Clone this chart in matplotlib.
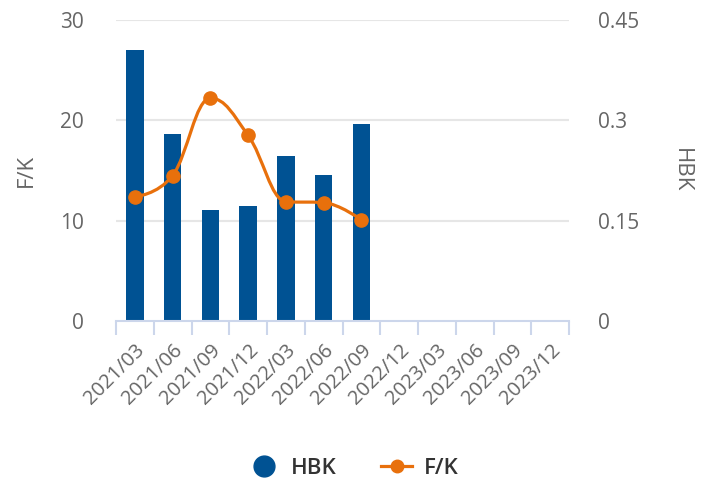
import matplotlib
matplotlib.use("Agg")
import matplotlib.pyplot as plt
from matplotlib.path import Path
from matplotlib.patches import PathPatch
from matplotlib.lines import Line2D
import numpy as np

plt.rcParams['font.family'] = ['Open Sans', 'DejaVu Sans']

categories = ["2021/03", "2021/06", "2021/09", "2021/12", "2022/03", "2022/06",
              "2022/09", "2022/12", "2023/03", "2023/06", "2023/09", "2023/12"]
hbk = [0.405, 0.280, 0.166, 0.172, 0.246, 0.219, 0.295]
fk = [12.4, 14.5, 22.2, 18.5, 11.9, 11.8, 10.1]

BAR = "#005293"
LINE = "#e8700c"
GRID = "#e6e6e6"
AXIS = "#ccd6eb"
TXT = "#666666"

W, H = 707, 482
fig = plt.figure(figsize=(W / 100, H / 100), dpi=100)
ax = fig.add_axes([116 / W, 1 - 321 / H, (569 - 116) / W, (321 - 20) / H])
ax2 = ax.twinx()

n = len(categories)
x = np.arange(n)

# bars on right axis (HBK)
ax2.bar(x[:len(hbk)], hbk, width=0.47, color=BAR, zorder=2)
ax2.set_ylim(0, 0.45)
ax2.set_yticks([0, 0.15, 0.3, 0.45])
ax2.set_yticklabels(["0", "0.15", "0.3", "0.45"])

# left axis (F/K)
ax.set_ylim(0, 30)
ax.set_yticks([0, 10, 20, 30])
ax.set_xlim(-0.5, n - 0.5)
ax.set_zorder(ax2.get_zorder() + 1)
ax.patch.set_visible(False)

for v in [10, 20, 30]:
    ax2.axhline(v * 0.015, color=GRID, lw=1.5, zorder=0)


def spline_path(xs, ys, smoothing=1.5):
    verts = [(xs[0], ys[0])]
    codes = [Path.MOVETO]
    m = len(xs)
    conts = []
    for i in range(m):
        if i == 0 or i == m - 1:
            conts.append(((xs[i], ys[i]), (xs[i], ys[i])))
            continue
        px, py = xs[i], ys[i]
        lx, ly = xs[i - 1], ys[i - 1]
        nx, ny = xs[i + 1], ys[i + 1]
        d = smoothing + 1
        lcx = (smoothing * px + lx) / d
        lcy = (smoothing * py + ly) / d
        rcx = (smoothing * px + nx) / d
        rcy = (smoothing * py + ny) / d
        if rcx != lcx:
            corr = ((rcy - lcy) * (rcx - px)) / (rcx - lcx) + py - rcy
            lcy += corr
            rcy += corr
        if lcy > ly and lcy > py:
            lcy = max(ly, py)
            rcy = 2 * py - lcy
        elif lcy < ly and lcy < py:
            lcy = min(ly, py)
            rcy = 2 * py - lcy
        if rcy > ny and rcy > py:
            rcy = max(ny, py)
            lcy = 2 * py - rcy
        elif rcy < ny and rcy < py:
            rcy = min(ny, py)
            lcy = 2 * py - rcy
        conts.append(((lcx, lcy), (rcx, rcy)))
    for i in range(1, m):
        verts += [conts[i - 1][1], conts[i][0], (xs[i], ys[i])]
        codes += [Path.CURVE4] * 3
    return Path(verts, codes)


xs = list(x[:len(fk)].astype(float))
path = spline_path(xs, fk)
ax.add_patch(PathPatch(path, fill=False, edgecolor=LINE, lw=2.3, zorder=3,
                       capstyle='round', joinstyle='round'))
ax.plot(xs, fk, linestyle='none', marker='o', markersize=9.5, color=LINE, zorder=4)

# axes styling
for a in (ax, ax2):
    for s in a.spines.values():
        s.set_visible(False)
ax.spines['bottom'].set_visible(True)
ax.spines['bottom'].set_color(AXIS)
ax.spines['bottom'].set_linewidth(1.5)

ax.set_xticks(np.arange(n + 1) - 0.5, minor=True)
ax.tick_params(axis='x', which='minor', length=10, width=1.5, color=AXIS)
ax.set_xticks(x)
ax.set_xticklabels(categories, rotation=45, ha='right', va='top',
                   rotation_mode='anchor', fontsize=14.5, color=TXT)
ax.tick_params(axis='x', which='major', length=0, pad=14)
ax.tick_params(axis='y', length=0, pad=23, labelsize=15, labelcolor=TXT)
ax2.tick_params(axis='y', length=0, pad=21, labelsize=15, labelcolor=TXT)

ax.set_ylabel("F/K", fontsize=16, color=TXT, va='center')
ax.yaxis.set_label_coords(-(116 - 26) / (569 - 116), 0.5)
ax2.set_ylabel("HBK", fontsize=16, color=TXT, rotation=270, va='center')
ax2.yaxis.set_label_coords(1 + (681 - 569) / (569 - 116), 0.5)

handles = [
    Line2D([], [], linestyle='none', marker='o', markersize=15, color=BAR),
    Line2D([], [], color=LINE, lw=2.3, marker='o', markersize=9),
]
fig.legend(handles, ["HBK", "F/K"], loc='center', bbox_to_anchor=(0.5, 1 - 468 / H),
           ncol=2, frameon=False, prop={'size': 16, 'weight': 'semibold'},
           labelcolor="#333333", handlelength=1.4, columnspacing=2.0, handletextpad=0.5)

fig.savefig("out.png", dpi=100)
